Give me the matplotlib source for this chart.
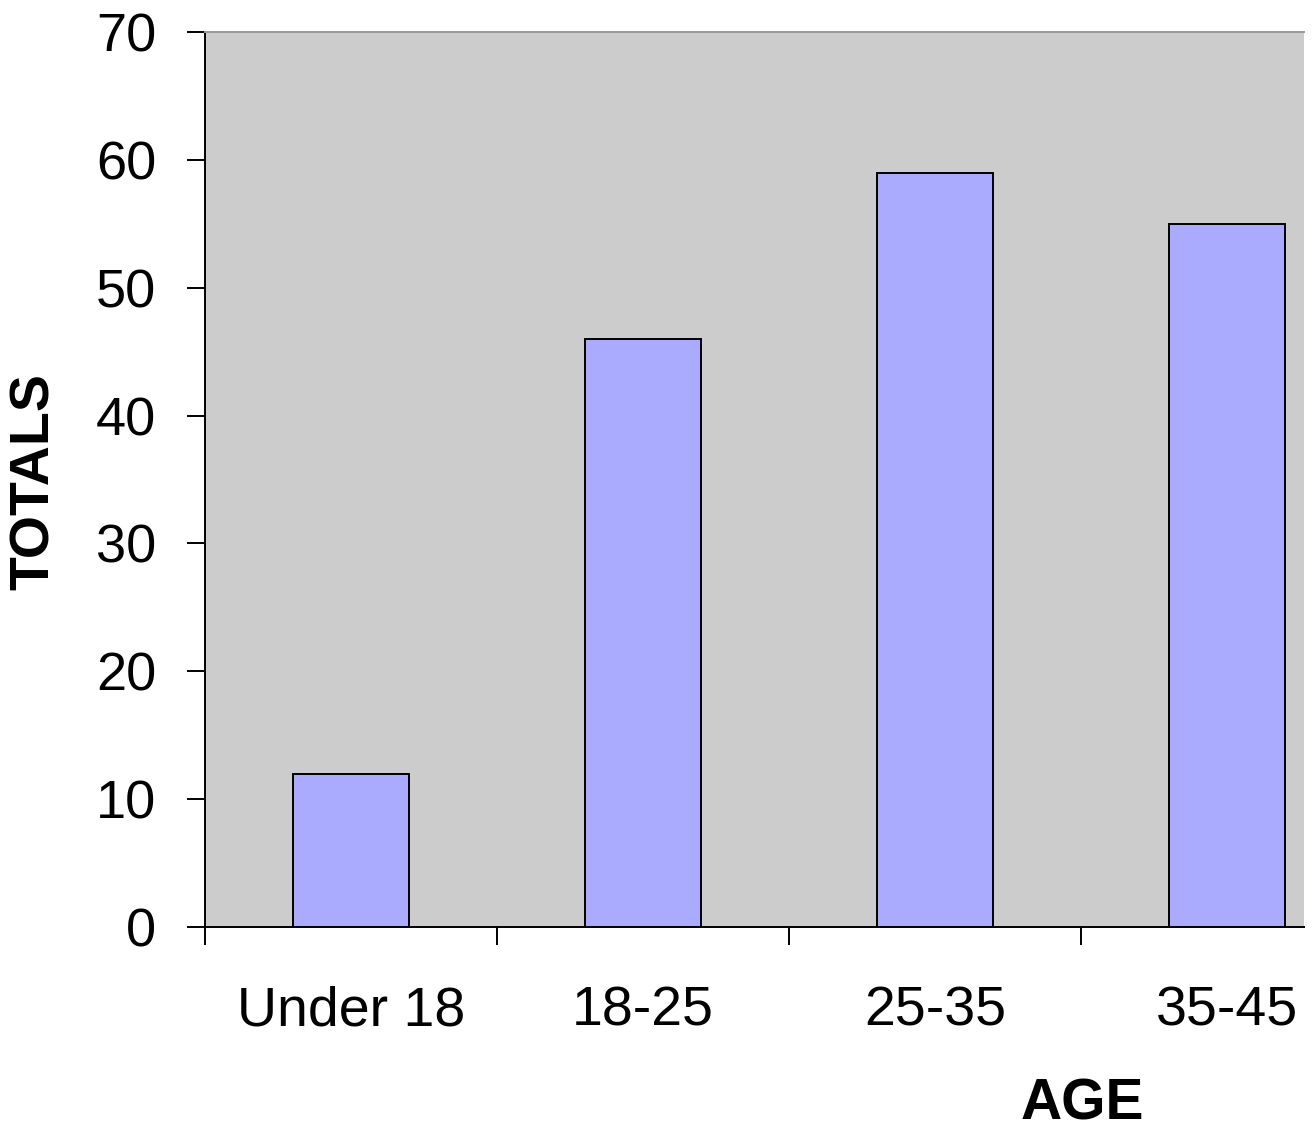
import matplotlib
matplotlib.use("Agg")
import matplotlib.pyplot as plt
import numpy as np

categories = ["Under 18", "18-25", "25-35", "35-45"]
values = [12, 46, 59, 55]
yticks = [0, 10, 20, 30, 40, 50, 60, 70]

plt.rcParams['font.family'] = ['Liberation Sans', 'DejaVu Sans']

fig = plt.figure(figsize=(13.16, 11.32), dpi=100)
ax = fig.add_axes([205/1316, 1-927/1132, (1304-205)/1316, (927-32)/1132])
ax.set_facecolor('#CCCCCC')

x = np.arange(len(categories)) + 0.5
ax.bar(x, values, width=0.4, color='#AAAAFF', edgecolor='black', linewidth=1.4, zorder=3)

ax.set_ylim(0, 70)
ax.set_xlim(0, (1304-205)/292)
ax.set_yticks(yticks)
ax.set_yticklabels([str(v) for v in yticks])
ax.set_xticks(np.arange(len(categories)))
ax.set_xticklabels([])
ax.set_xticks(x, minor=True)
ax.set_xticklabels(categories, minor=True)

ax.tick_params(axis='y', which='major', length=13, width=1.4, pad=22, labelsize=39, direction='out')
ax.tick_params(axis='x', which='major', length=13, width=1.4, direction='out')
ax.tick_params(axis='x', which='minor', length=0, pad=42, labelsize=40)

for s in ['left', 'bottom']:
    ax.spines[s].set_color('black')
    ax.spines[s].set_linewidth(1.4)
ax.spines['top'].set_color('#999999')
ax.spines['top'].set_linewidth(1.4)
ax.spines['right'].set_visible(False)

fig.text(35/1316, 1-482/1132, 'TOTALS', rotation=90, fontsize=40, fontweight='bold', ha='center', va='center')
fig.text(1082/1316, 1-1105/1132, 'AGE', fontsize=41, fontweight='bold', ha='center', va='center')

fig.savefig('out.png', dpi=100)
